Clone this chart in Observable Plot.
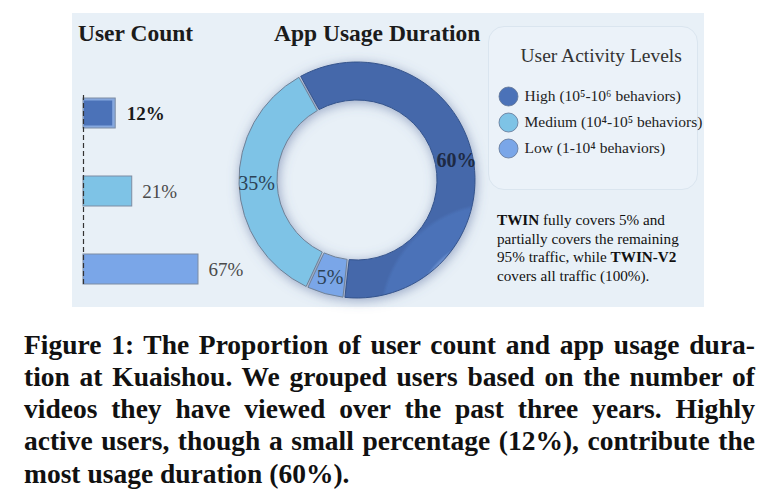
<!DOCTYPE html>
<html><head><meta charset="utf-8">
<script src="https://cdn.jsdelivr.net/npm/d3@7"></script>
<script src="https://cdn.jsdelivr.net/npm/@observablehq/plot@0.6"></script>
<style>
body{margin:0;background:#fff;}
#wrap{position:relative;width:772px;height:503px;font-family:"Liberation Serif","Times New Roman",serif;}
.abs{position:absolute;}
#panel{left:72px;top:13px;width:632px;height:294px;background:#e8f0f7;}
.title{font-weight:bold;font-size:23.5px;line-height:1;color:#1b1b1b;white-space:nowrap;}
#legendbox{left:488px;top:26px;width:210px;height:164px;border-radius:16px;background:#ebf2f9;border:1px solid #dae5ef;box-sizing:border-box;overflow:visible}
#note{left:497px;top:211px;font-size:15.2px;line-height:18.7px;color:#111;white-space:nowrap}
.cap{left:24px;font-weight:bold;font-size:27.5px;line-height:32.5px;color:#111;white-space:nowrap}
svg{overflow:visible}
svg text{font-family:"Liberation Serif","Times New Roman",serif;}
</style></head>
<body><div id="wrap">
<div id="panel" class="abs"></div>
<div class="abs title" style="left:78px;top:22px">User Count</div>
<div class="abs title" style="left:274px;top:22px">App Usage Duration</div>
<div id="legendbox" class="abs"></div>
<div id="note" class="abs"><b>TWIN</b> fully covers 5% and<br>partially covers the remaining<br>95% traffic, while <b>TWIN-V2</b><br>covers all traffic (100%).</div>
</div>
<script>
// ---- data ----
const levels = ["High", "Medium", "Low"];
const levelLabels = ["High (10⁵-10⁶ behaviors)", "Medium (10⁴-10⁵ behaviors)", "Low (1-10⁴ behaviors)"];
const userCount = [12, 21, 67];
const usageLevels = ["High", "Low", "Medium"];
const usageDuration = [60, 5, 35];
const levelColors = ["#4b72b8", "#7ec3e6", "#7aa6e8"];
const legendTitle = "User Activity Levels";
const captionLines = [
  "Figure 1: The Proportion of user count and app usage dura-",
  "tion at Kuaishou. We grouped users based on the number of",
  "videos they have viewed over the past three years. Highly",
  "active users, though a small percentage (12%), contribute the",
  "most usage duration (60%)."
];

const wrap = document.getElementById("wrap");
const colorOf = Object.fromEntries(levels.map((l, i) => [l, levelColors[i]]));
const serif = '"Liberation Serif", "Times New Roman", serif';

// ---- bar chart ----
const bars = levels.map((l, i) => ({level: l, value: userCount[i]}));
const barPlot = Plot.plot({
  width: 300, height: 310, marginTop: 95, marginBottom: 23, marginLeft: 83, marginRight: 20,
  x: {type: "pow", exponent: 0.74, domain: [0, 67], range: [83, 198], axis: null},
  y: {type: "band", domain: levels, range: [97, 285], paddingInner: 0.62, paddingOuter: 0, axis: null},
  style: {background: "transparent", fontFamily: serif},
  marks: [
    Plot.barX(bars, {x: "value", y: "level", fill: d => d.level === "High" ? "#86a8de" : colorOf[d.level], stroke: "#7d8ca3", strokeWidth: 1}),
    Plot.barX(bars.filter(d => d.level === "High"), {x: "value", y: "level", fill: colorOf["High"], insetLeft: 1, insetRight: 3, insetTop: 2.5, insetBottom: 2.5}),
    Plot.ruleX([0], {stroke: "#333", strokeWidth: 1.2, strokeDasharray: "5,3"}),
    Plot.text(bars.filter(d => d.level === "High"), {x: "value", y: "level", text: d => d.value + "%", dx: 11, textAnchor: "start", fontSize: 19, fontWeight: "bold", fill: "#1a1a1a"}),
    Plot.text(bars.filter(d => d.level !== "High"), {x: "value", y: "level", text: d => d.value + "%", dx: 10, textAnchor: "start", fontSize: 19, fill: "#4a4a4a"})
  ]
});
barPlot.style.position = "absolute"; barPlot.style.left = "0px"; barPlot.style.top = "0px";
wrap.appendChild(barPlot);

// ---- donut ----
const usage = usageLevels.map((l, i) => ({level: l, value: usageDuration[i]}));
const a0 = -29 * Math.PI / 180;
const arcs = d3.pie().sort(null).value(d => d.value).startAngle(a0).endAngle(a0 + 2 * Math.PI).padAngle(0.014)(usage);
const R0 = 80, R1 = 118, RL = 101;
const mid = d => (d.startAngle + d.endAngle) / 2;
const donutPlot = Plot.plot({
  width: 280, height: 280, margin: 0,
  x: {domain: [-140, 140], range: [0, 280], axis: null},
  y: {domain: [-140, 140], range: [0, 280], axis: null},
  style: {background: "transparent", fontFamily: serif},
  marks: [
    (index, scales) => {
      const cx = scales.x(0), cy = scales.y(0);
      const k = scales.x(1) - scales.x(0);
      const g = d3.create("svg:g");
      const defs = g.append("defs");
      const rg = defs.append("radialGradient").attr("id", "gHigh").attr("gradientUnits", "userSpaceOnUse")
        .attr("cx", cx).attr("cy", cy).attr("r", R1 * k);
      [[R0 / R1, "#7498d6"], [(R0 + 4) / R1, "#4b72b8"], [(R1 - 4) / R1, "#4b72b8"], [1, "#4468aa"]]
        .forEach(([o, c]) => rg.append("stop").attr("offset", o).attr("stop-color", c));
      const f = defs.append("filter").attr("id", "dsh").attr("x", "-30%").attr("y", "-30%").attr("width", "160%").attr("height", "160%");
      f.append("feDropShadow").attr("dx", 1).attr("dy", 2).attr("stdDeviation", 6).attr("flood-color", "#51689a").attr("flood-opacity", 0.55);
      const arc = d3.arc().innerRadius(R0 * k).outerRadius(R1 * k);
      g.append("g").attr("transform", `translate(${cx},${cy})`).attr("filter", "url(#dsh)")
        .selectAll("path").data(arcs).join("path")
        .attr("d", arc)
        .attr("fill", d => d.data.level === "High" ? "url(#gHigh)" : colorOf[d.data.level])
        .attr("stroke", d => d.data.level === "High" ? "#35548c" : "#6f8197")
        .attr("stroke-width", 1);
      return g.node();
    },
    Plot.text(arcs.filter(d => d.data.level === "High"), {x: d => RL * Math.sin(mid(d)), y: d => -RL * Math.cos(mid(d)), text: d => d.data.value + "%", fontSize: 20, fontWeight: "bold", fill: "#1e2a44"}),
    Plot.text(arcs.filter(d => d.data.level !== "High"), {x: d => RL * Math.sin(mid(d)), y: d => -RL * Math.cos(mid(d)), text: d => d.data.value + "%", fontSize: 20, fill: "#2c4256"})
  ]
});
donutPlot.style.position = "absolute"; donutPlot.style.left = "217px"; donutPlot.style.top = "40px";
wrap.appendChild(donutPlot);

// ---- legend ----
const legendItems = levels.map((l, i) => ({level: l, label: levelLabels[i]}));
const legendPlot = Plot.plot({
  width: 208, height: 162, margin: 0,
  y: {type: "point", domain: levels, range: [55, 134], axis: null},
  style: {background: "transparent", fontFamily: serif},
  marks: [
    Plot.text([legendTitle], {frameAnchor: "top-left", dx: 31, dy: 21, textAnchor: "start", fontSize: 19.5, fill: "#333"}),
    Plot.dot(legendItems, {y: "level", frameAnchor: "left", dx: 19, r: 9.5, fill: d => colorOf[d.level], stroke: "#5f7394", strokeWidth: 0.8}),
    Plot.text(legendItems, {y: "level", text: "label", frameAnchor: "left", dx: 35, textAnchor: "start", fontSize: 15.5, fill: "#222"})
  ]
});
legendPlot.style.position = "absolute"; legendPlot.style.left = "0px"; legendPlot.style.top = "0px";
document.getElementById("legendbox").appendChild(legendPlot);

// ---- caption ----
const capTop = 328.5, capStep = 32.3, capWidth = 731;
captionLines.forEach((line, i) => {
  const div = document.createElement("div");
  div.className = "abs cap";
  div.style.top = (capTop + i * capStep) + "px";
  div.textContent = line;
  wrap.appendChild(div);
  if (i < captionLines.length - 1) {
    const w = div.getBoundingClientRect().width;
    const spaces = (line.match(/ /g) || []).length;
    div.style.wordSpacing = ((capWidth - w) / spaces) + "px";
  }
});
</script>
</body></html>
